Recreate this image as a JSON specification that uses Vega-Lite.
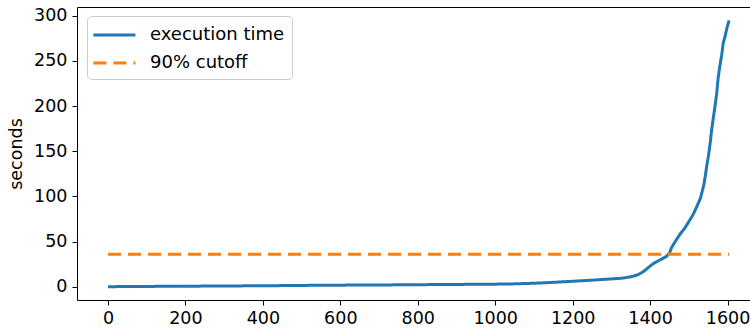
{
  "$schema": "https://vega.github.io/schema/vega-lite/v6.json",
  "width": 673,
  "height": 293,
  "autosize": {"type": "none"},
  "padding": {"left": 77, "top": 7, "right": 0, "bottom": 30},
  "background": "white",
  "config": {
    "view": {"stroke": null},
    "font": "DejaVu Sans",
    "axis": {
      "grid": false,
      "domainColor": "black",
      "domainWidth": 1,
      "tickColor": "black",
      "tickWidth": 1,
      "tickSize": 5,
      "labelColor": "black",
      "labelFont": "DejaVu Sans",
      "labelFontSize": 17.5,
      "titleFont": "DejaVu Sans",
      "titleFontSize": 17.5,
      "titleFontWeight": "normal",
      "titleColor": "black"
    }
  },
  "data": {
    "values": [
      {"s": "execution time", "i": 0, "v": 0.0},
      {"s": "execution time", "i": 100, "v": 0.3},
      {"s": "execution time", "i": 200, "v": 0.5},
      {"s": "execution time", "i": 300, "v": 0.8},
      {"s": "execution time", "i": 400, "v": 1.0},
      {"s": "execution time", "i": 500, "v": 1.4},
      {"s": "execution time", "i": 600, "v": 1.7},
      {"s": "execution time", "i": 700, "v": 1.9},
      {"s": "execution time", "i": 800, "v": 2.2},
      {"s": "execution time", "i": 900, "v": 2.5},
      {"s": "execution time", "i": 1000, "v": 2.8},
      {"s": "execution time", "i": 1040, "v": 3.0},
      {"s": "execution time", "i": 1100, "v": 3.8},
      {"s": "execution time", "i": 1150, "v": 4.8},
      {"s": "execution time", "i": 1200, "v": 6.0},
      {"s": "execution time", "i": 1250, "v": 7.2},
      {"s": "execution time", "i": 1300, "v": 8.6},
      {"s": "execution time", "i": 1330, "v": 9.5},
      {"s": "execution time", "i": 1356, "v": 11.5},
      {"s": "execution time", "i": 1370, "v": 13.5},
      {"s": "execution time", "i": 1382, "v": 16.5},
      {"s": "execution time", "i": 1395, "v": 21},
      {"s": "execution time", "i": 1408, "v": 25.5},
      {"s": "execution time", "i": 1425, "v": 29.5},
      {"s": "execution time", "i": 1442, "v": 33.5},
      {"s": "execution time", "i": 1450, "v": 37},
      {"s": "execution time", "i": 1455, "v": 43},
      {"s": "execution time", "i": 1465, "v": 50},
      {"s": "execution time", "i": 1477, "v": 58},
      {"s": "execution time", "i": 1490, "v": 65},
      {"s": "execution time", "i": 1500, "v": 72},
      {"s": "execution time", "i": 1510, "v": 79},
      {"s": "execution time", "i": 1520, "v": 88},
      {"s": "execution time", "i": 1530, "v": 98},
      {"s": "execution time", "i": 1539, "v": 113},
      {"s": "execution time", "i": 1543, "v": 124},
      {"s": "execution time", "i": 1546, "v": 133},
      {"s": "execution time", "i": 1550, "v": 143},
      {"s": "execution time", "i": 1553, "v": 152},
      {"s": "execution time", "i": 1556, "v": 162},
      {"s": "execution time", "i": 1559, "v": 174},
      {"s": "execution time", "i": 1562, "v": 183},
      {"s": "execution time", "i": 1565, "v": 192},
      {"s": "execution time", "i": 1568, "v": 201},
      {"s": "execution time", "i": 1572, "v": 214},
      {"s": "execution time", "i": 1576, "v": 232},
      {"s": "execution time", "i": 1580, "v": 244},
      {"s": "execution time", "i": 1585, "v": 257},
      {"s": "execution time", "i": 1589, "v": 270},
      {"s": "execution time", "i": 1593, "v": 276},
      {"s": "execution time", "i": 1597, "v": 284},
      {"s": "execution time", "i": 1600, "v": 289},
      {"s": "execution time", "i": 1604, "v": 295},
      {"s": "90% cutoff", "i": 0, "v": 36},
      {"s": "90% cutoff", "i": 1604, "v": 36}
    ]
  },
  "layer": [
    {
      "mark": {"type": "line", "strokeWidth": 3, "clip": true},
      "encoding": {
        "x": {
          "field": "i", "type": "quantitative",
          "scale": {"domain": [-80, 1658], "nice": false, "zero": false},
          "axis": {"orient": "bottom", "title": null, "format": "d", "values": [0, 200, 400, 600, 800, 1000, 1200, 1400, 1600], "labelPadding": 4, "labelFlush": false}
        },
        "y": {
          "field": "v", "type": "quantitative",
          "scale": {"domain": [-14.75, 309.75], "nice": false, "zero": false},
          "axis": {"title": "seconds", "format": "d", "values": [0, 50, 100, 150, 200, 250, 300], "labelPadding": 5, "titlePadding": 8, "labelFlush": false}
        },
        "color": {
          "field": "s", "type": "nominal",
          "scale": {"domain": ["execution time", "90% cutoff"], "range": ["#1f77b4", "#ff7f0e"]},
          "legend": {
            "title": null,
            "orient": "none",
            "legendX": 10,
            "legendY": 9,
            "fillColor": "white",
            "strokeColor": "#cccccc",
            "cornerRadius": 4,
            "padding": 7,
            "labelFont": "DejaVu Sans",
            "labelFontSize": 18,
            "labelColor": "black",
            "labelOffset": 32,
            "rowPadding": 7,
            "symbolType": "M-1.2,0H2.8",
            "symbolSize": 441,
            "symbolStrokeWidth": 3
          }
        },
        "strokeDash": {
          "field": "s", "type": "nominal",
          "scale": {"domain": ["execution time", "90% cutoff"], "range": [[1, 0], [13, 7]]},
          "legend": null
        },
        "order": {"field": "i", "type": "quantitative"}
      }
    },
    {
      "mark": {"type": "rule", "opacity": 0},
      "encoding": {
        "x": {
          "field": "i", "type": "quantitative",
          "axis": {"orient": "top", "title": null, "labels": false, "ticks": false, "domain": true}
        }
      }
    }
  ]
}
